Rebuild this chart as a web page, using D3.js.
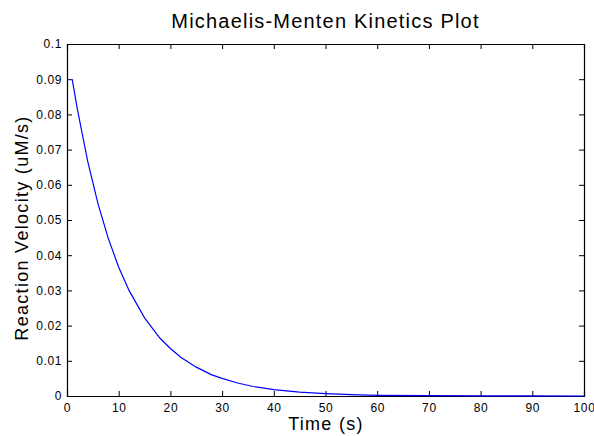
<!DOCTYPE html>
<html>
<head>
<meta charset="utf-8">
<script src="https://cdn.jsdelivr.net/npm/d3@7"></script>
<style>
  body { margin: 0; background: #fff; }
  #chart { width: 594px; height: 436px; }
  text { font-family: "Liberation Sans", Arial, sans-serif; fill: #000; }
</style>
</head>
<body>
<div id="chart"></div>
<script>
// values
const times = [1, 2, 4, 6, 8, 10, 12, 15, 18, 20, 22, 25, 28, 30, 33, 36, 40, 45, 50, 55, 60, 70, 80, 90, 100];
const velocity = [0.090, 0.0815, 0.0667, 0.0546, 0.0447, 0.0366, 0.0300, 0.0222, 0.0164, 0.0135, 0.0110,
  0.0082, 0.0060, 0.0050, 0.0037, 0.0027, 0.0018, 0.0011, 0.0007, 0.0004, 0.0002, 0.0001, 0.00003, 0.00001, 0.000005];
const xTicks = [0, 10, 20, 30, 40, 50, 60, 70, 80, 90, 100];
const yTicks = [0, 0.01, 0.02, 0.03, 0.04, 0.05, 0.06, 0.07, 0.08, 0.09, 0.1];

const data = times.map((t, i) => ({t: t, v: velocity[i]}));

var margin = {top: 44, right: 10, bottom: 40, left: 67};
var width = 584 - margin.left;
var height = 396 - margin.top;

var svg = d3.select('#chart').append('svg')
  .attr('width', 594)
  .attr('height', 436);

const xScale = d3.scaleLinear().domain([0, 100]).range([0, width]);
const yScale = d3.scaleLinear().domain([0, 0.1]).range([height, 0]);

const plotArea = svg.append('g')
  .attr('transform', `translate(${margin.left}, ${margin.top})`);

const fmt = d => d === 0 ? '0' : d3.format('')(+d.toFixed(2));

// bottom + left axes with inward ticks
plotArea.append('g')
  .attr('transform', `translate(0, ${height})`)
  .call(d3.axisBottom(xScale).tickValues(xTicks).tickSize(-5).tickPadding(7).tickFormat(d3.format('d')));
plotArea.append('g')
  .call(d3.axisLeft(yScale).tickValues(yTicks).tickSize(-5).tickPadding(5).tickFormat(fmt));

// top + right ticks (no labels)
plotArea.append('g')
  .call(d3.axisTop(xScale).tickValues(xTicks).tickSize(-5).tickFormat(''));
plotArea.append('g')
  .attr('transform', `translate(${width}, 0)`)
  .call(d3.axisRight(yScale).tickValues(yTicks).tickSize(-5).tickFormat(''));

plotArea.selectAll('.domain').attr('stroke', '#000').attr('stroke-width', 1.2);
plotArea.selectAll('.tick line').attr('stroke', '#000');
plotArea.selectAll('.tick text')
  .style('font-size', '12px')
  .style('letter-spacing', '0.6px')
  .style('font-family', '"Liberation Sans", Arial, sans-serif')
  .attr('fill', '#000');

// curve
const line = d3.line()
  .x(d => xScale(d.t))
  .y(d => yScale(d.v));

plotArea.append('path')
  .datum(data)
  .attr('d', line)
  .attr('fill', 'none')
  .attr('stroke', '#0000ff')
  .attr('stroke-width', 1.2);

// title and axis labels
svg.append('text')
  .attr('x', margin.left + width / 2)
  .attr('y', 28)
  .attr('text-anchor', 'middle')
  .style('font-size', '20px')
  .style('letter-spacing', '1.2px')
  .attr('fill', '#222')
  .text('Michaelis-Menten Kinetics Plot');

svg.append('text')
  .attr('x', 326)
  .attr('y', 430)
  .attr('text-anchor', 'middle')
  .style('font-size', '18px')
  .style('letter-spacing', '1.3px')
  .text('Time (s)');

svg.append('text')
  .attr('transform', `translate(28, 228) rotate(-90)`)
  .attr('text-anchor', 'middle')
  .style('font-size', '18px')
  .style('letter-spacing', '1.3px')
  .text('Reaction Velocity (uM/s)');
</script>
</body>
</html>
